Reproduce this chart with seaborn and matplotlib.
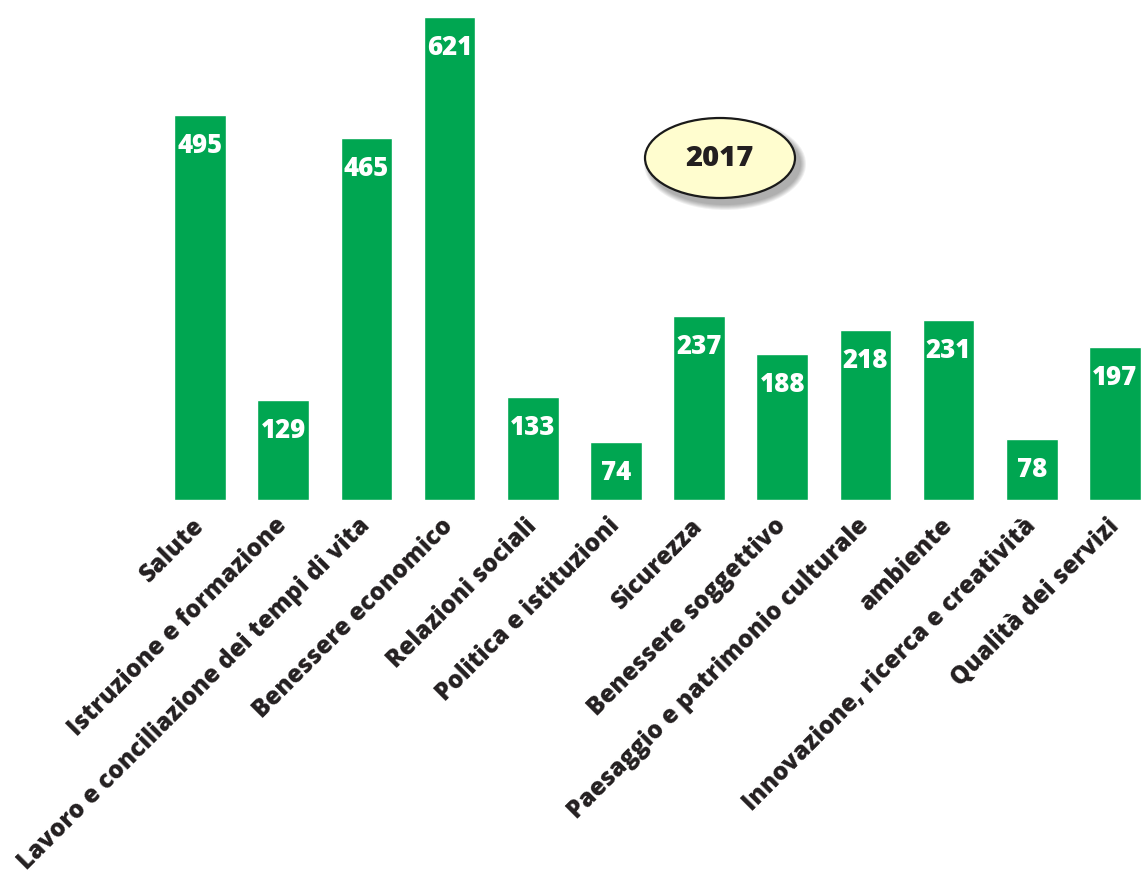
import matplotlib
matplotlib.use("Agg")
import matplotlib.pyplot as plt
from matplotlib.patches import Ellipse
import seaborn as sns
import pandas as pd

categories = [
    "Salute",
    "Istruzione e formazione",
    "Lavoro e conciliazione dei tempi di vita",
    "Benessere economico",
    "Relazioni sociali",
    "Politica e istituzioni",
    "Sicurezza",
    "Benessere soggettivo",
    "Paesaggio e patrimonio culturale",
    "ambiente",
    "Innovazione, ricerca e creatività",
    "Qualità dei servizi",
]
values = [495, 129, 465, 621, 133, 74, 237, 188, 218, 231, 78, 197]
year_label = "2017"

GREEN = "#00A651"
TEXT = "#231F20"

sns.set_theme(style="white")
plt.rcParams["font.family"] = ["Open Sans", "DejaVu Sans"]

W, H = 1142, 876
fig = plt.figure(figsize=(W / 100, H / 100), dpi=100)
# axes span the full width; bar baseline sits at y=500px from the top
ax = fig.add_axes([0, (H - 500) / H, 1, 500 / H])

df = pd.DataFrame({"categoria": categories, "valore": values})
sns.barplot(data=df, x="categoria", y="valore", color=GREEN, saturation=1,
            width=0.62, ax=ax)

step = 915 / 11
ax.set_xlim(-200 / step, (W - 200) / step)
ax.set_ylim(0, 621 * 500 / 483)

for i, v in enumerate(values):
    ax.annotate(f"{v}", xy=(i, v), xytext=(0, -13), textcoords="offset points",
                ha="center", va="top", color="white", fontsize=18.5,
                fontweight=800)

ax.set_xlabel("")
ax.set_ylabel("")
ax.set_yticks([])
for s in ax.spines.values():
    s.set_visible(False)
ax.tick_params(axis="x", length=0, pad=16)
ax.set_xticks(range(len(categories)))
ax.set_xticklabels(categories, rotation=45, ha="right", va="center",
                   rotation_mode="anchor", fontsize=17.5, fontweight=800,
                   color=TEXT)

# year badge with a soft drop shadow
cx, cy = 720 / W, 1 - 158 / H
ew, eh = 150 / W, 80 / H
for k in range(6):
    fig.patches.append(Ellipse((cx + 5 / W, cy - 6 / H), ew + (6 - k) * 2 / W,
                               eh + (6 - k) * 2 / H, transform=fig.transFigure,
                               facecolor="#000000", alpha=0.06,
                               edgecolor="none"))
fig.patches.append(Ellipse((cx, cy), ew, eh, transform=fig.transFigure,
                           facecolor="#FFFDCF", edgecolor="#1a1a1a",
                           linewidth=1.6))
fig.text(cx, cy, year_label, ha="center", va="center", fontsize=21,
         fontweight=800, color=TEXT)

fig.savefig("out.png", dpi=100)
